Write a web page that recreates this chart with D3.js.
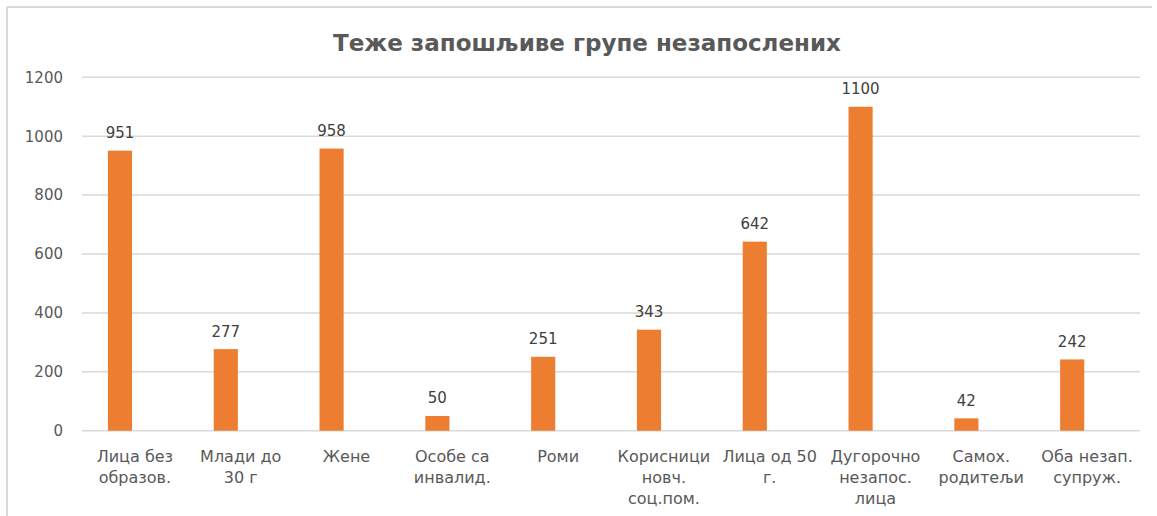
<!DOCTYPE html>
<html>
<head>
<meta charset="utf-8">
<script src="https://cdn.jsdelivr.net/npm/d3@7"></script>
<style>
  body { margin: 0; background: #fff; }
  svg { display: block; }
  text { font-family: "DejaVu Sans", sans-serif; }
</style>
</head>
<body>
<svg id="main-svg" width="1157" height="516"></svg>
<script>
// data
var title = "Теже запошљиве групе незапослених";
var categories = [
    "Лица без\nобразов.",
    "Млади до\n30 г",
    "Жене",
    "Особе са\nинвалид.",
    "Роми",
    "Корисници\nновч.\nсоц.пом.",
    "Лица од 50\nг.",
    "Дугорочно\nнезапос.\nлица",
    "Самох.\nродитељи",
    "Оба незап.\nсупруж."
];
var values = [951, 277, 958, 50, 251, 343, 642, 1100, 42, 242];
var yTicks = [0, 200, 400, 600, 800, 1000, 1200];

var svg = d3.select("#main-svg");

// chart frame (top and left edges are visible)
svg.append("line").attr("x1", 7).attr("x2", 1152).attr("y1", 7).attr("y2", 7)
    .attr("stroke", "#d9d9d9").attr("stroke-width", 2);
svg.append("line").attr("x1", 7).attr("x2", 7).attr("y1", 7).attr("y2", 516)
    .attr("stroke", "#d9d9d9").attr("stroke-width", 2);

// title
svg.append("text")
    .attr("x", 587).attr("y", 51)
    .attr("text-anchor", "middle")
    .attr("font-size", "23px")
    .attr("font-weight", "bold")
    .attr("fill", "#595959")
    .text(title);

var x = d3.scaleBand().domain(categories).range([82, 1140]);
var y = d3.scaleLinear().domain([0, 1200]).range([430.7, 77.3]);
var bw = x.bandwidth();

// gridlines
svg.append("g").selectAll("line")
    .data(yTicks)
    .enter().append("line")
    .attr("x1", 82).attr("x2", 1140)
    .attr("y1", function (d) { return y(d); })
    .attr("y2", function (d) { return y(d); })
    .attr("stroke", "#d9d9d9").attr("stroke-width", 1.5);

// y axis labels
var yAxis = d3.axisLeft(y).tickValues(yTicks).tickFormat(d3.format("d")).tickSize(0).tickPadding(0);
var ga = svg.append("g").attr("transform", "translate(63,0)").call(yAxis);
ga.select(".domain").remove();
ga.selectAll("text")
    .attr("font-family", "DejaVu Sans")
    .attr("font-size", "15px")
    .attr("fill", "#595959");

// bars (first series of a clustered pair, so sits left of centre)
var bars = svg.append("g");
bars.selectAll("rect")
    .data(values)
    .enter().append("rect")
    .attr("x", function (d, i) { return x(categories[i]) + bw * 0.245; })
    .attr("width", bw * 0.228)
    .attr("y", function (d) { return y(d); })
    .attr("height", function (d) { return y(0) - y(d); })
    .attr("fill", "#ed7d31");

// value labels
bars.selectAll("text")
    .data(values)
    .enter().append("text")
    .attr("x", function (d, i) { return x(categories[i]) + bw * 0.245 + bw * 0.114; })
    .attr("y", function (d) { return y(d) - 12.5; })
    .attr("text-anchor", "middle")
    .attr("font-size", "15px")
    .attr("fill", "#404040")
    .text(function (d) { return d; });

// category labels
var cats = svg.append("g");
categories.forEach(function (c) {
    var t = cats.append("text")
        .attr("text-anchor", "middle")
        .attr("font-size", "16px")
        .attr("fill", "#595959");
    c.split("\n").forEach(function (line, k) {
        t.append("tspan")
            .attr("x", x(c) + bw / 2)
            .attr("y", 461.5 + k * 21)
            .text(line);
    });
});
</script>
</body>
</html>
